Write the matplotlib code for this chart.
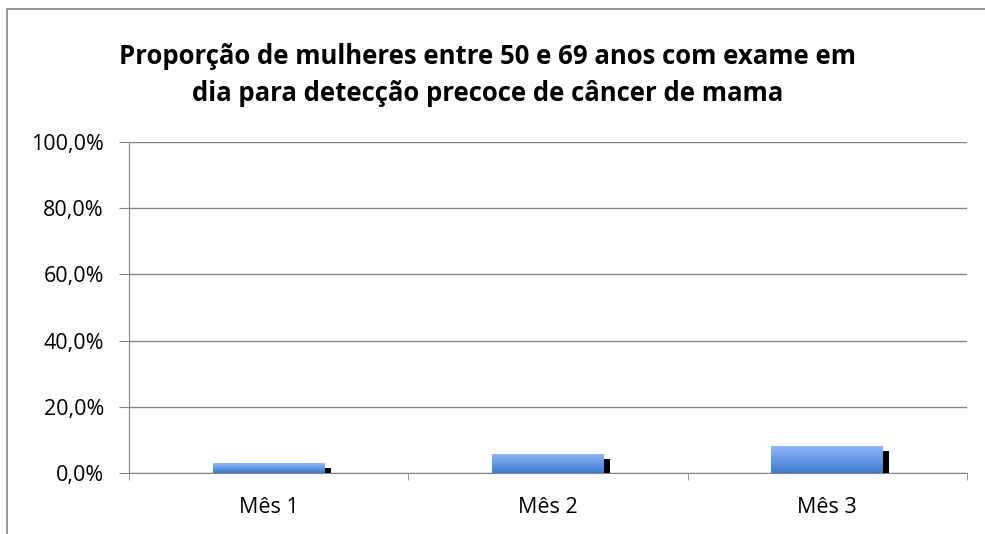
import numpy as np
import matplotlib.pyplot as plt
from matplotlib.patches import Rectangle
from matplotlib.colors import LinearSegmentedColormap
from matplotlib.ticker import FuncFormatter, FixedLocator

plt.rcParams['font.family'] = ['Open Sans', 'DejaVu Sans']

categories = ['Mês 1', 'Mês 2', 'Mês 3']
proporcao = [2.9, 5.7, 8.1]
meta = [1.5, 4.2, 6.6]

fig = plt.figure(figsize=(9.85, 5.34), dpi=100)
ax = fig.add_axes([129/985, 1-473/534, (967-129)/985, (473-142)/534])

# chart outer border (cut off at right and bottom)
fig.patches.append(Rectangle((7/985, -0.1), 1.2, 1-9/534+0.1, transform=fig.transFigure,
                             fill=False, edgecolor='#868686', linewidth=1.2))

x = np.arange(len(categories))
w = 0.4
cmap = LinearSegmentedColormap.from_list('blue', ['#3d7bd0', '#8fb7f7'])
grad = np.linspace(0, 1, 100).reshape(-1, 1)

bars = ax.bar(x, proporcao, width=w, color='none', zorder=3)
for b in bars:
    x0, y0 = b.get_x(), b.get_y()
    im = ax.imshow(grad, cmap=cmap, aspect='auto', origin='lower',
                   extent=[x0, x0 + b.get_width(), y0, y0 + b.get_height()], zorder=3)
    im.set_clip_path(b)
ax.bar(x + w/2 + 0.011, meta, width=0.022, color='black', zorder=3)

ax.set_xlim(-0.5, 2.5)
ax.set_ylim(0, 100)
ax.set_yticks(np.arange(0, 101, 20))
ax.yaxis.set_major_formatter(FuncFormatter(lambda v, p: f'{v:.1f}%'.replace('.', ',')))
ax.set_xticks(x)
ax.set_xticklabels(categories)
ax.xaxis.set_minor_locator(FixedLocator([-0.5, 0.5, 1.5, 2.5]))
ax.tick_params(axis='x', which='major', length=0, labelsize=15.5, pad=17)
ax.tick_params(axis='x', which='minor', length=5, color='#868686')
ax.tick_params(axis='y', length=7, color='#868686', labelsize=15.5, pad=11)
ax.grid(axis='y', color='#868686', linewidth=1, zorder=0)
ax.set_axisbelow(True)
for s in ['top', 'right']:
    ax.spines[s].set_visible(False)
for s in ['left', 'bottom']:
    ax.spines[s].set_color('#868686')

fig.text(0.495, 1-75/534, 'Proporção de mulheres entre 50 e 69 anos com exame em\ndia para detecção precoce de câncer de mama',
         ha='center', va='center', fontsize=18.5, fontweight='bold', linespacing=1.5)

fig.savefig('out.png', dpi=100)
